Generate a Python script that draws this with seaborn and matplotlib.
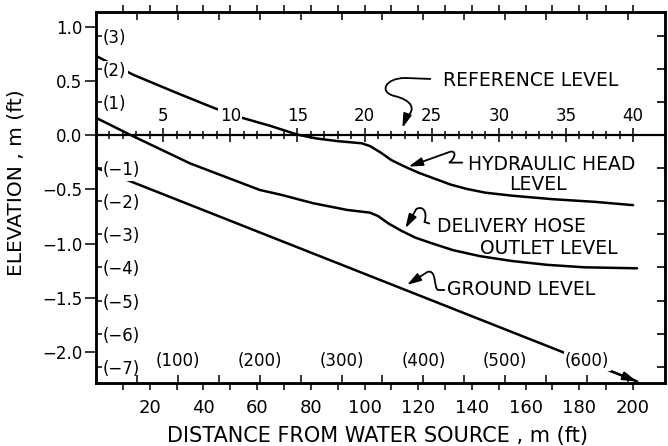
import matplotlib
matplotlib.use("Agg")
import matplotlib.pyplot as plt
import seaborn as sns
from matplotlib.path import Path
from matplotlib.patches import FancyArrowPatch
from matplotlib.ticker import FixedLocator, NullFormatter

# ---------------- data ----------------
head_x = [0, 14, 30, 44, 53, 65, 75, 82, 90, 99, 102, 106, 110, 115, 120, 126, 132, 138,
          145, 155, 170, 186, 200]
head_y = [0.73, 0.555, 0.39, 0.25, 0.17, 0.085, 0.005, -0.03, -0.055, -0.075, -0.10, -0.16,
          -0.23, -0.29, -0.345, -0.40, -0.455, -0.495, -0.53, -0.558, -0.59, -0.615, -0.645]

outlet_x = [0, 13, 35, 61, 69, 81, 93.5, 102, 105, 109, 114, 119, 125, 133, 143, 155, 168,
            182, 201.5]
outlet_y = [0.16, 0.0, -0.26, -0.505, -0.55, -0.628, -0.689, -0.714, -0.745, -0.815, -0.885,
            -0.945, -0.996, -1.06, -1.115, -1.16, -1.195, -1.218, -1.227]

ground_x = [0, 201.5]
ground_y = [-0.30, -2.27]

dist_m_ticks = [20, 40, 60, 80, 100, 120, 140, 160, 180, 200]
dist_m_labels = ["20", "40", "60", "80", "100", "120", "140", "160", "180", "200"]
dist_m_minor = [10, 30, 50, 70, 90, 110, 130, 150, 170, 190]

dist_ft_ticks = [100, 200, 300, 400, 500, 600]
dist_ft_labels = ["(100)", "(200)", "(300)", "(400)", "(500)", "(600)"]
dist_ft_minor = [50, 150, 250, 350, 450, 550, 650]

elev_m_ticks = [-2.0, -1.5, -1.0, -0.5, 0.0, 0.5, 1.0]
elev_m_labels = ["\u22122.0", "\u22121.5", "\u22121.0", "\u22120.5", "0.0", "0.5", "1.0"]

elev_ft_ticks = [-7, -6, -5, -4, -3, -2, -1, 0, 1, 2, 3]
elev_ft_labels = ["(\u22127)", "(\u22126)", "(\u22125)", "(\u22124)", "(\u22123)", "(\u22122)",
                  "(\u22121)", "", "(1)", "(2)", "(3)"]

ref_ticks = [5, 10, 15, 20, 25, 30, 35, 40]
ref_labels = ["5", "10", "15", "20", "25", "30", "35", "40"]
ref_minor = [1, 2, 3, 4, 6, 7, 8, 9, 11, 12, 13, 14, 16, 17, 18, 19, 21, 22, 23, 24,
             26, 27, 28, 29, 31, 32, 33, 34, 36, 37, 38, 39]

M_PER_FT = 0.3048
M_PER_REF_UNIT = 5.0

# ---------------- style ----------------
sns.set_theme(style="white")
plt.rcParams["font.family"] = ["DejaVu Sans"]
plt.rcParams.update({
    "axes.edgecolor": "black", "axes.linewidth": 1.8,
    "xtick.color": "black", "ytick.color": "black",
    "text.color": "black", "axes.labelcolor": "black",
})

fig = plt.figure(figsize=(6.68, 4.46), dpi=100, facecolor="white")
ax = fig.add_axes([96 / 668, 1 - 383 / 446, (665 - 96) / 668, (383 - 12) / 446])
ax.set_facecolor("white")

for xs, ys in [(head_x, head_y), (outlet_x, outlet_y), (ground_x, ground_y)]:
    sns.lineplot(x=xs, y=ys, ax=ax, color="black", linewidth=1.8,
                 estimator=None, sort=False, legend=False)

ax.set_xlim(0, 211.9)
ax.set_ylim(-2.284, 1.135)

# metric ticks (outside)
ax.set_xticks(dist_m_ticks, labels=dist_m_labels)
ax.set_xticks(dist_m_minor, minor=True)
ax.tick_params(axis="x", which="both", direction="out", length=5, width=1.1,
               top=True, bottom=True, labeltop=False, labelsize=13, pad=6.5)
ax.set_yticks(elev_m_ticks, labels=elev_m_labels)
ax.tick_params(axis="y", which="major", direction="out", length=8, width=1.1,
               left=True, right=False, labelsize=12, pad=2)
for s in ax.spines.values():
    s.set_linewidth(1.8)

m2ft = (lambda m: m / M_PER_FT, lambda f: f * M_PER_FT)

# feet, left (labels inside)
sl = ax.secondary_yaxis("left", functions=m2ft)
sl.set_zorder(5)
sl.set_yticks(elev_ft_ticks, labels=elev_ft_labels)
sl.tick_params(direction="in", length=4.5, width=1.1, labelsize=12, pad=-5)

# feet, right
sr = ax.secondary_yaxis("right", functions=m2ft)
sr.set_zorder(5)
sr.set_yticks(elev_ft_ticks)
sr.yaxis.set_major_formatter(NullFormatter())
sr.tick_params(direction="in", length=6, width=1.2, right=True, left=False)

# feet, bottom (labels inside)
sb = ax.secondary_xaxis("bottom", functions=m2ft)
sb.set_zorder(5)
sb.set_xticks(dist_ft_ticks, labels=dist_ft_labels)
sb.xaxis.set_minor_locator(FixedLocator(dist_ft_minor))
sb.tick_params(which="both", direction="in", length=5.8, width=1.1, labelsize=12, pad=-9.4)

# feet, top
st = ax.secondary_xaxis("top", functions=m2ft)
st.set_zorder(5)
st.set_xticks(dist_ft_ticks)
st.xaxis.set_major_formatter(NullFormatter())
st.xaxis.set_minor_locator(FixedLocator(dist_ft_minor))
st.tick_params(which="both", direction="in", length=5.8, width=1.1)

# reference level scale along y = 0
sm = ax.secondary_xaxis(0, functions=(lambda m: m / M_PER_REF_UNIT, lambda r: r * M_PER_REF_UNIT),
                        transform=ax.transData)
sm.set_zorder(5)
sm.set_alignment("top")
sm.set_xticks(ref_ticks, labels=ref_labels)
sm.xaxis.set_minor_locator(FixedLocator(ref_minor))
sm.tick_params(which="major", direction="inout", length=9.4, width=1.1, labelsize=12, pad=2.5,
               top=True, labeltop=True, bottom=False, labelbottom=False)
sm.tick_params(which="minor", direction="inout", length=5.8, width=1.1,
               top=True, bottom=False)
for s in sm.spines.values():
    s.set_linewidth(1.6)

ax.set_xlabel("DISTANCE FROM WATER SOURCE , m (ft)", fontsize=15)
ax.xaxis.set_label_coords(0.4956, -0.117)
ax.set_ylabel("ELEVATION , m (ft)", fontsize=14.5)
ax.yaxis.set_label_coords(-0.124, 0.54)

fig.canvas.draw()
white = dict(boxstyle="square,pad=0.08", fc="white", ec="none")
for t in sl.get_yticklabels():
    t.set_ha("left")
    t.set_bbox(white)
for t in sb.get_xticklabels():
    t.set_va("bottom")
    t.set_bbox(white)
for t in sm.get_xticklabels():
    t.set_bbox(white)

# ---------------- annotations ----------------
fs = 13.5
ax.text(129.3, 0.454, "REFERENCE LEVEL", fontsize=fs, ha="left", va="baseline")
ax.text(138.7, -0.321, "HYDRAULIC HEAD", fontsize=fs, ha="left", va="baseline")
ax.text(164.7, -0.505, "LEVEL", fontsize=fs, ha="center", va="baseline")
ax.text(127.1, -0.892, "DELIVERY HOSE", fontsize=fs, ha="left", va="baseline")
ax.text(143.1, -1.095, "OUTLET LEVEL", fontsize=fs, ha="left", va="baseline")
ax.text(130.8, -1.471, "GROUND LEVEL", fontsize=fs, ha="left", va="baseline")

M, L, C = Path.MOVETO, Path.LINETO, Path.CURVE4
astyle = "-|>,head_length=0.6,head_width=0.18"


def squiggle(verts, codes):
    p = FancyArrowPatch(path=Path(verts, codes), arrowstyle=astyle, mutation_scale=14,
                        color="black", lw=1.3, zorder=4)
    ax.add_patch(p)


squiggle([(124.5, 0.518), (115.2, 0.527), (107.7, 0.527), (105.2, 0.398), (111.1, 0.361),
          (117.8, 0.324), (119.3, 0.232), (115.6, 0.168), (114.1, 0.066)],
         [M, L, C, C, C, C, C, C, L])
squiggle([(136.4, -0.253), (131.6, -0.253), (134.2, -0.201), (134.2, -0.127), (131.2, -0.159),
          (116.4, -0.290)],
         [M, L, C, C, C, L])
squiggle([(124.1, -0.814), (122.3, -0.800), (123.4, -0.726), (122.3, -0.644), (119.3, -0.680),
          (115.2, -0.858)],
         [M, L, C, C, C, L])
squiggle([(129.7, -1.427), (127.5, -1.427), (125.6, -1.418), (127.1, -1.233), (123.4, -1.261),
          (115.8, -1.381)],
         [M, L, C, C, C, L])

# arrowhead at the end of the ground line
gdx = ground_x[-1] - ground_x[0]
gdy = ground_y[-1] - ground_y[0]
ax.annotate("", xy=(ground_x[-1], ground_y[-1]),
            xytext=(ground_x[-1] - 0.05 * gdx, ground_y[-1] - 0.05 * gdy),
            arrowprops=dict(arrowstyle=astyle, mutation_scale=14, color="black",
                            lw=1.5, shrinkA=0, shrinkB=0), zorder=4)

fig.savefig("out.png", dpi=100, facecolor="white")
